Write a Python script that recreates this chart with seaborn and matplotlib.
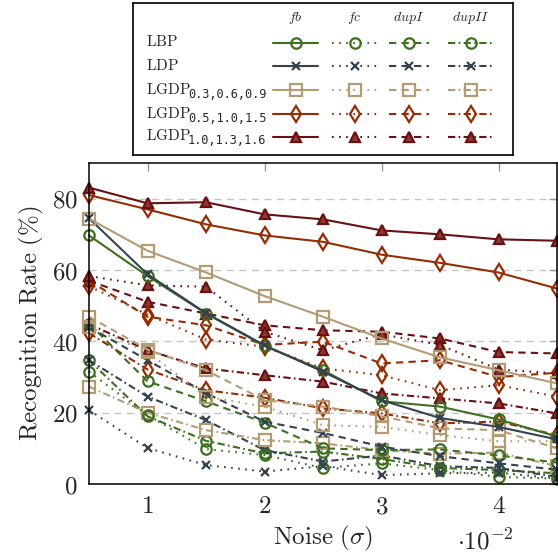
import matplotlib
matplotlib.use("Agg")
import matplotlib.pyplot as plt
import seaborn as sns
import pandas as pd

# noise levels (x 10^-2)
noise = [0.5, 1.0, 1.5, 2.0, 2.5, 3.0, 3.5, 4.0, 4.5]

methods = ["LBP", "LDP", "LGDP1", "LGDP2", "LGDP3"]
method_names = ["LBP", "LDP", "LGDP", "LGDP", "LGDP"]
method_subs = ["", "", "0.3,0.6,0.9", "0.5,1.0,1.5", "1.0,1.3,1.6"]
sets = ["fb", "fc", "dupI", "dupII"]

# recognition rates (%)
lbp_fb = [69.7, 58.3, 47.8, 38.7, 31.9, 23.2, 21.7, 18.1, 13.3]
lbp_fc = [31.5, 19.3, 9.8, 8.1, 4.5, 5.8, 3.9, 2.0, 1.5]
lbp_dup1 = [45.0, 28.8, 23.2, 17.2, 10.0, 9.5, 9.7, 8.0, 6.0]
lbp_dup2 = [34.7, 19.0, 12.1, 8.6, 9.1, 7.0, 4.5, 3.9, 3.0]

ldp_fb = [74.5, 58.8, 47.9, 38.9, 31.5, 23.5, 18.5, 16.0, 12.5]
ldp_fc = [20.7, 10.1, 5.3, 3.5, 5.0, 2.5, 3.0, 3.2, 1.5]
ldp_dup1 = [44.0, 34.7, 25.5, 17.5, 14.3, 10.5, 7.8, 5.8, 4.0]
ldp_dup2 = [34.7, 24.5, 17.9, 9.5, 6.3, 8.0, 5.0, 4.5, 2.0]

g1_fb = [74.4, 65.4, 59.3, 52.7, 46.9, 40.8, 35.5, 31.9, 28.2]
g1_fc = [44.0, 37.0, 24.5, 21.7, 16.5, 16.0, 13.7, 12.0, 12.0]
g1_dup1 = [46.9, 37.7, 31.9, 23.5, 21.7, 19.0, 15.6, 15.1, 10.0]
g1_dup2 = [27.3, 20.0, 15.1, 12.3, 11.4, 9.5, 8.5, 8.8, 5.0]

g2_fb = [81.0, 77.0, 72.8, 69.7, 67.9, 64.3, 62.0, 59.3, 54.8]
g2_fc = [55.5, 47.5, 40.5, 38.5, 32.4, 30.5, 26.3, 27.7, 24.5]
g2_dup1 = [57.0, 46.9, 44.5, 39.0, 39.9, 33.8, 34.7, 30.0, 31.2]
g2_dup2 = [42.3, 32.1, 26.3, 24.2, 21.2, 19.8, 17.0, 17.5, 13.7]

g3_fb = [83.1, 78.7, 79.0, 75.6, 74.2, 71.1, 70.0, 68.6, 68.2]
g3_fc = [58.3, 55.7, 55.3, 42.7, 37.5, 42.0, 39.0, 32.1, 31.0]
g3_dup1 = [57.0, 51.1, 47.8, 44.5, 43.1, 42.7, 40.8, 37.0, 36.6]
g3_dup2 = [44.8, 37.5, 32.4, 30.5, 28.7, 25.4, 24.0, 22.6, 19.8]

rates = {
    "LBP": [lbp_fb, lbp_fc, lbp_dup1, lbp_dup2],
    "LDP": [ldp_fb, ldp_fc, ldp_dup1, ldp_dup2],
    "LGDP1": [g1_fb, g1_fc, g1_dup1, g1_dup2],
    "LGDP2": [g2_fb, g2_fc, g2_dup1, g2_dup2],
    "LGDP3": [g3_fb, g3_fc, g3_dup1, g3_dup2],
}

colors = {"LBP": "#3d6f1f", "LDP": "#33434f", "LGDP1": "#b39c74",
          "LGDP2": "#952d04", "LGDP3": "#6a1010"}
markers = {"LBP": "o", "LDP": "x", "LGDP1": "s", "LGDP2": "d", "LGDP3": "^"}
msize = {"LBP": 7.5, "LDP": 6, "LGDP1": 8, "LGDP2": 8.5, "LGDP3": 7.5}
face = {"LBP": "none", "LDP": "none", "LGDP1": "none", "LGDP2": "none",
        "LGDP3": "#8a3a34"}
styles = {"fb": "-", "fc": (0, (0.8, 2.6)), "dupI": (0, (3.5, 2.5)),
          "dupII": (0, (3.5, 1.6, 0.8, 1.6))}

rows = []
for m in methods:
    for s, vals in zip(sets, rates[m]):
        for x, v in zip(noise, vals):
            rows.append({"method": m, "set": s, "noise": x, "rate": v})
df = pd.DataFrame(rows)

sns.set_style("white")
plt.rcParams["mathtext.fontset"] = "cm"
plt.rcParams["font.family"] = ["DejaVu Serif"]

fig = plt.figure(figsize=(5.58, 5.56), dpi=100)
ax = fig.add_axes([89 / 558, 1 - 484 / 556, 468 / 558, 321 / 556])

for s in ["dupII", "dupI", "fc", "fb"]:
    for m in methods:
        sub = df[(df["method"] == m) & (df["set"] == s)]
        sns.lineplot(data=sub, x="noise", y="rate", ax=ax, color=colors[m],
                     marker=markers[m], markersize=msize[m],
                     markeredgewidth=1.6, markeredgecolor=colors[m],
                     markerfacecolor=face[m], linewidth=1.5,
                     linestyle=styles[s], errorbar=None, clip_on=False)

ax.set_xlim(0.5, 4.5)
ax.set_ylim(0, 90)
ax.set_xticks([1, 2, 3, 4])
ax.set_yticks([0, 20, 40, 60, 80])
ax.set_xticklabels([r"$1$", r"$2$", r"$3$", r"$4$"])
ax.set_yticklabels([r"$0$", r"$20$", r"$40$", r"$60$", r"$80$"])
ax.tick_params(direction="in", length=6, width=1, color="#9a9a9a",
               labelsize=18, top=True, right=True, pad=8)
ax.yaxis.grid(True, color="#c4c4c4", linestyle=(0, (5, 4)), linewidth=1)
ax.xaxis.grid(False)
for sp in ax.spines.values():
    sp.set_color("black")
    sp.set_linewidth(1.1)
ax.set_xlabel(r"$\mathrm{Noise}\ (\sigma)$", fontsize=18, labelpad=4)
ax.set_ylabel(r"$\mathrm{Recognition\ Rate\ (\%)}$", fontsize=18, labelpad=4)
fig.text(485 / 558, 1 - 549 / 556, r"$\cdot10^{-2}$", fontsize=18,
         ha="center", va="baseline")

# table-like legend
lg = fig.add_axes([133 / 558, 1 - 155 / 556, 380 / 558, 152 / 556])
lg.set_xlim(0, 380)
lg.set_ylim(152, 0)
lg.set_xticks([])
lg.set_yticks([])
for sp in lg.spines.values():
    sp.set_color("black")
    sp.set_linewidth(1.2)
col_x = [(140, 185), (199, 244), (256, 296), (315, 360)]
row_y = [40, 63, 87, 111, 134]
for (x0, x1), s in zip(col_x, sets):
    lg.text((x0 + x1) / 2, 15, r"$\mathit{" + s + "}$", fontsize=10,
            ha="center", va="center")
for yy, m, name, sub_txt in zip(row_y, methods, method_names, method_subs):
    lg.text(13, yy - 1, r"$\mathrm{" + name + "}$", fontsize=11, ha="left",
            va="center")
    if sub_txt:
        lg.text(55, yy + 4, sub_txt, fontsize=8.6, family="DejaVu Sans Mono",
                ha="left", va="center")
    for (x0, x1), s in zip(col_x, sets):
        lg.plot([x0, x1], [yy, yy], color=colors[m], linestyle=styles[s],
                linewidth=1.5)
        lg.plot([(x0 + x1) / 2], [yy], color=colors[m], marker=markers[m],
                markersize=msize[m], markeredgewidth=1.6,
                markerfacecolor=face[m], markeredgecolor=colors[m])

fig.savefig("out.png", dpi=100)
